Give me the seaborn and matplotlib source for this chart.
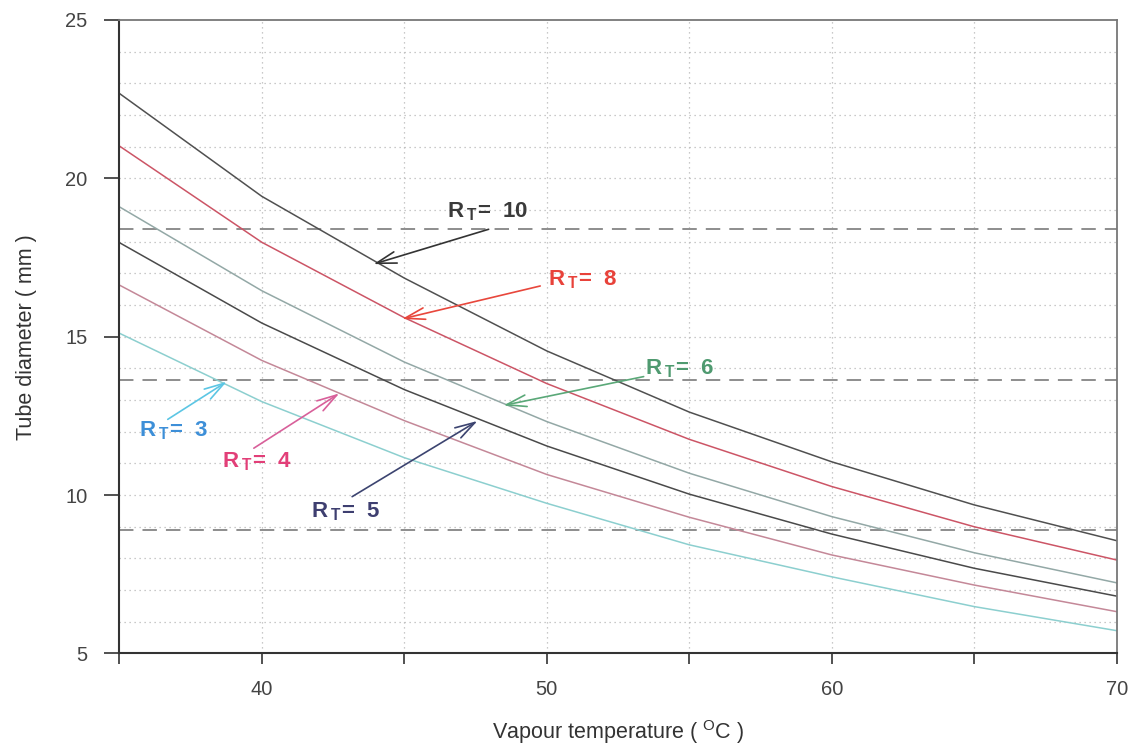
import numpy as np
import pandas as pd
import matplotlib
matplotlib.use("Agg")
import matplotlib.pyplot as plt
import seaborn as sns

# ---- data ----
temps = [35, 40, 45, 50, 55, 60, 65, 70]
rt10 = [22.68, 19.43, 16.85, 14.55, 12.62, 11.05, 9.69, 8.56]
rt8 = [21.02, 17.98, 15.60, 13.52, 11.76, 10.27, 9.00, 7.95]
rt6 = [19.10, 16.45, 14.20, 12.32, 10.69, 9.32, 8.18, 7.23]
rt5 = [17.97, 15.43, 13.33, 11.55, 10.03, 8.77, 7.69, 6.81]
rt4 = [16.63, 14.25, 12.35, 10.65, 9.30, 8.11, 7.16, 6.32]
rt3 = [15.11, 12.95, 11.18, 9.74, 8.43, 7.42, 6.48, 5.72]
ratios = ["10", "8", "6", "5", "4", "3"]
dashed_levels = [18.4, 13.63, 8.9]

# annotation labels: (label, text x, text y, arrow tail, arrow tip)
labels = ["10", "8", "6", "5", "4", "3"]
label_pos = [(46.5, 18.95), (50.06, 16.79), (53.46, 14.0), (41.73, 9.48), (38.59, 11.05), (35.7, 12.03)]
arrow_tail = [(47.96, 18.39), (49.77, 16.6), (53.4, 13.74), (43.17, 9.95), (39.72, 11.48), (36.7, 12.39)]
arrow_tip = [(43.92, 17.29), (44.92, 15.56), (48.48, 12.83), (47.57, 12.34), (42.72, 13.21), (38.77, 13.58)]

curve_colors = {"10": "#505050", "8": "#cc5566", "6": "#93a8a6", "5": "#4a4a4a",
                "4": "#c48898", "3": "#8ccfcf"}
text_colors = {"10": "#3a3a3a", "8": "#e8423a", "6": "#4f9a70", "5": "#3e3f70",
               "4": "#e23f78", "3": "#3d8fd8"}
arrow_colors = {"10": "#333333", "8": "#e8473c", "6": "#5aa878", "5": "#3c4470",
                "4": "#d8609a", "3": "#5cc6e4"}

series = {"10": rt10, "8": rt8, "6": rt6, "5": rt5, "4": rt4, "3": rt3}
df = pd.concat([pd.DataFrame({"T": temps, "D": v, "RT": k}) for k, v in series.items()],
               ignore_index=True)

sns.set_theme(style="white")
plt.rcParams["font.family"] = ["Liberation Sans", "DejaVu Sans"]
plt.rcParams["mathtext.fontset"] = "custom"
plt.rcParams["mathtext.rm"] = "Liberation Sans"

fig = plt.figure(figsize=(11.32, 7.47), dpi=100)
ax = fig.add_axes([0.1054, 0.1252, 0.8811, 0.8482])

# grid
for yv in range(6, 25):
    ax.axhline(yv, color="#b8b8b8", lw=0.9, ls=(0, (1, 3)), zorder=0)
for xv in [40, 45, 50, 55, 60, 65]:
    ax.axvline(xv, color="#b8b8b8", lw=0.9, ls=(0, (1, 3)), zorder=0)

for lv in dashed_levels:
    ax.axhline(lv, color="#858585", lw=1.3, ls=(0, (8, 5)), zorder=1)

sns.lineplot(data=df, x="T", y="D", hue="RT", palette=curve_colors, legend=False,
             ax=ax, lw=1.1, zorder=2)

for lab, tp, tl, tip in zip(labels, label_pos, arrow_tail, arrow_tip):
    ax.annotate("", xy=tip, xytext=tl,
                arrowprops=dict(arrowstyle="->,head_length=1.2,head_width=0.35",
                                color=arrow_colors[lab], lw=1.2, mutation_scale=12,
                                shrinkA=0, shrinkB=0), zorder=4)
    ax.text(tp[0], tp[1], r"R$\,_{\mathregular{T}}$=  " + lab, color=text_colors[lab],
            fontsize=16, fontweight="bold", ha="left", va="center", zorder=5)

ax.set_xlim(35, 70)
ax.set_ylim(5, 25)
ax.set_xticks([35, 40, 45, 50, 55, 60, 65, 70])
ax.set_xticklabels(["", "40", "", "50", "", "60", "", "70"])
ax.set_yticks([5, 10, 15, 20, 25])
ax.tick_params(axis="x", direction="out", length=8, width=1.2, color="#333333",
               pad=11, labelsize=14.5, labelcolor="#444444", bottom=True)
ax.tick_params(axis="y", direction="out", length=11, width=1.2, color="#333333",
               pad=12, labelsize=14.5, labelcolor="#444444", left=True)

ax.set_xlabel(r"Vapour temperature ( $^{\mathregular{O}}$C )", fontsize=15.5,
              color="#333333", labelpad=14)
ax.set_ylabel("Tube diameter ( mm )", fontsize=15.5, color="#333333", labelpad=20)

for side in ["left", "bottom"]:
    ax.spines[side].set_color("#333333")
    ax.spines[side].set_linewidth(1.5)
for side in ["top", "right"]:
    ax.spines[side].set_color("#777777")
    ax.spines[side].set_linewidth(1.3)
    ax.spines[side].set_visible(True)

fig.savefig("out.png", dpi=100, facecolor="white")
